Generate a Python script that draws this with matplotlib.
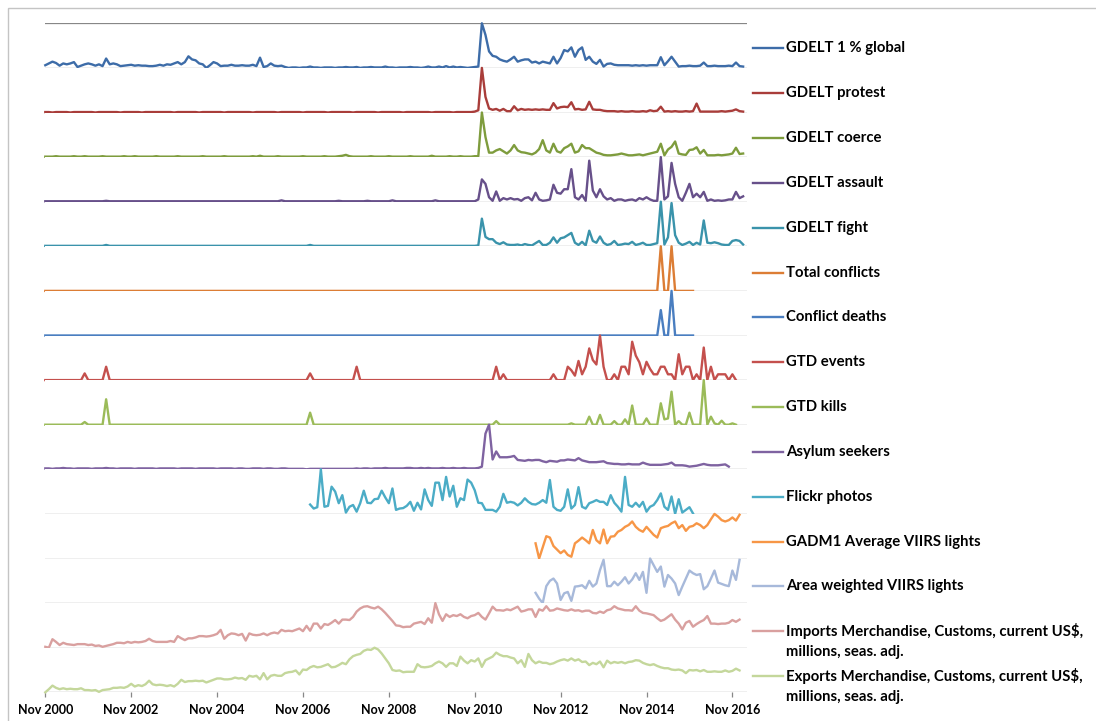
import numpy as np
import matplotlib
matplotlib.use("Agg")
import matplotlib.pyplot as plt
from matplotlib.patches import Rectangle
from matplotlib.lines import Line2D

plt.rcParams['font.family'] = ['Lato', 'DejaVu Sans']

# monthly values, month 0 = Nov 2000; each series read as % of its own panel (min..max)
tick_pos = [0, 24, 48, 72, 96, 120, 144, 168, 192]
tick_labels = ["Nov 2000", "Nov 2002", "Nov 2004", "Nov 2006", "Nov 2008",
               "Nov 2010", "Nov 2012", "Nov 2014", "Nov 2016"]

gdelt_global = [6, 10, 14, 11, 5, 10, 8, 10, 13, 2,
                5, 8, 10, 8, 5, 8, 4, 21, 8, 10,
                8, 4, 5, 6, 7, 5, 6, 5, 5, 4,
                4, 5, 7, 5, 8, 7, 10, 13, 8, 13,
                26, 19, 17, 10, 8, 0, 6, 13, 10, 4,
                5, 5, 7, 5, 5, 6, 5, 5, 7, 4,
                23, 2, 4, 10, 5, 4, 5, 2, 0, 1,
                1, 0, 1, 1, 3, 1, 1, 0, 1, 1,
                1, 0, 1, 1, 2, 1, 1, 2, 0, 1,
                1, 2, 1, 1, 1, 3, 1, 1, 0, 1,
                1, 1, 2, 1, 1, 0, 1, 3, 1, 1,
                3, 1, 4, 1, 3, 1, 2, 1, 0, 1,
                2, 3, 100, 74, 37, 27, 25, 19, 16, 14,
                19, 25, 14, 17, 19, 19, 12, 14, 10, 14,
                12, 10, 25, 10, 22, 40, 37, 46, 25, 40,
                46, 18, 25, 14, 9, 18, 3, 9, 10, 7,
                6, 6, 6, 6, 5, 6, 5, 6, 5, 6,
                6, 6, 24, 6, 15, 25, 14, 3, 4, 4,
                5, 4, 4, 5, 12, 4, 4, 5, 4, 4,
                4, 5, 4, 12, 4, 3]

gdelt_protest = [1, 1, 0, 1, 1, 1, 1, 0, 1, 1,
                 1, 1, 1, 1, 0, 1, 1, 1, 1, 1,
                 1, 0, 1, 1, 1, 1, 1, 0, 1, 1,
                 1, 1, 1, 1, 1, 1, 0, 1, 1, 1,
                 1, 1, 1, 0, 1, 1, 1, 1, 1, 1,
                 0, 1, 1, 1, 1, 1, 1, 1, 0, 1,
                 1, 1, 1, 1, 1, 0, 1, 1, 1, 1,
                 1, 1, 0, 1, 1, 1, 1, 1, 1, 0,
                 1, 1, 1, 1, 1, 1, 0, 1, 1, 1,
                 1, 1, 1, 0, 1, 1, 1, 1, 1, 1,
                 0, 1, 1, 1, 1, 1, 1, 1, 0, 1,
                 1, 1, 1, 1, 0, 1, 1, 1, 1, 1,
                 2, 5, 100, 35, 9, 6, 8, 4, 8, 3,
                 3, 14, 5, 8, 6, 7, 6, 7, 6, 7,
                 6, 6, 21, 9, 12, 13, 12, 23, 7, 8,
                 6, 7, 24, 7, 6, 6, 4, 3, 3, 3,
                 2, 3, 2, 2, 3, 2, 2, 3, 2, 5,
                 3, 4, 13, 2, 3, 2, 3, 2, 2, 3,
                 2, 3, 20, 2, 2, 2, 2, 2, 2, 3,
                 2, 3, 4, 7, 3, 2]

gdelt_coerce = [1, 1, 1, 2, 1, 1, 1, 1, 2, 1,
                1, 2, 1, 1, 1, 1, 2, 1, 1, 1,
                1, 1, 2, 1, 1, 2, 1, 1, 1, 1,
                1, 2, 1, 1, 1, 1, 1, 2, 1, 1,
                1, 1, 1, 1, 2, 1, 1, 1, 1, 1,
                2, 1, 1, 1, 1, 1, 1, 1, 2, 1,
                3, 1, 1, 1, 1, 2, 1, 1, 1, 1,
                1, 1, 2, 1, 1, 1, 1, 1, 2, 1,
                1, 1, 2, 3, 5, 2, 1, 1, 1, 1,
                1, 2, 1, 1, 1, 1, 2, 1, 1, 1,
                1, 1, 2, 1, 1, 1, 1, 1, 3, 1,
                1, 1, 1, 2, 1, 1, 2, 1, 1, 1,
                2, 2, 100, 45, 10, 10, 15, 18, 13, 8,
                15, 27, 15, 11, 10, 8, 6, 10, 18, 38,
                15, 10, 30, 13, 10, 20, 24, 30, 10, 13,
                27, 20, 20, 15, 10, 8, 5, 4, 4, 5,
                6, 8, 6, 4, 4, 5, 6, 4, 6, 8,
                10, 12, 30, 4, 17, 23, 35, 8, 6, 5,
                16, 17, 22, 8, 16, 4, 4, 4, 5, 4,
                5, 6, 8, 21, 7, 8]

gdelt_assault = [1, 1, 1, 1, 1, 1, 1, 1, 1, 1,
                 1, 1, 1, 1, 1, 1, 1, 2, 1, 1,
                 1, 1, 1, 1, 1, 1, 1, 1, 1, 1,
                 1, 1, 1, 1, 1, 1, 1, 1, 1, 1,
                 1, 1, 1, 1, 1, 1, 1, 1, 1, 1,
                 1, 1, 1, 1, 1, 1, 1, 1, 1, 1,
                 1, 1, 1, 1, 1, 1, 3, 1, 1, 1,
                 1, 1, 1, 1, 1, 1, 1, 1, 1, 1,
                 1, 1, 2, 1, 1, 1, 1, 1, 1, 1,
                 2, 1, 1, 1, 1, 1, 1, 3, 1, 1,
                 1, 1, 1, 1, 1, 1, 1, 1, 1, 3,
                 1, 1, 1, 1, 1, 1, 1, 1, 1, 1,
                 1, 5, 50, 40, 10, 2, 23, 2, 8, 5,
                 8, 5, 6, 2, 8, 10, 3, 20, 5, 2,
                 3, 5, 38, 20, 18, 28, 28, 73, 10, 5,
                 15, 2, 92, 25, 10, 28, 12, 5, 8, 2,
                 5, 5, 2, 4, 5, 2, 8, 5, 10, 5,
                 2, 2, 100, 5, 12, 87, 40, 10, 2, 20,
                 40, 10, 18, 10, 22, 2, 5, 2, 3, 2,
                 3, 5, 5, 22, 8, 12]

gdelt_fight = [1, 1, 1, 1, 1, 1, 1, 1, 1, 1,
               1, 1, 1, 1, 1, 1, 1, 3, 1, 1,
               1, 1, 1, 1, 1, 1, 1, 1, 1, 1,
               1, 1, 1, 1, 1, 1, 1, 1, 1, 1,
               1, 1, 1, 1, 1, 1, 1, 1, 1, 1,
               1, 1, 1, 1, 1, 1, 1, 1, 1, 1,
               1, 1, 1, 1, 1, 1, 1, 1, 1, 1,
               1, 1, 1, 1, 3, 1, 1, 1, 1, 1,
               1, 1, 1, 1, 1, 1, 1, 1, 1, 1,
               1, 1, 1, 1, 1, 1, 1, 1, 1, 1,
               1, 1, 1, 1, 1, 1, 1, 1, 1, 1,
               1, 1, 1, 1, 1, 1, 1, 1, 1, 1,
               1, 2, 62, 21, 16, 16, 8, 5, 9, 4,
               3, 3, 4, 2, 5, 3, 2, 7, 12, 3,
               3, 8, 20, 8, 18, 20, 25, 30, 8, 3,
               10, 2, 35, 12, 8, 22, 8, 3, 5, 12,
               3, 4, 6, 5, 10, 3, 5, 8, 3, 3,
               5, 7, 100, 4, 20, 97, 25, 8, 3, 6,
               10, 3, 8, 4, 58, 8, 7, 9, 7, 4,
               3, 3, 12, 14, 12, 4]

# sparse series: zero except the listed months
conflict_end = 181
total_conflicts_months = [172, 175]
total_conflicts_vals = [100, 100]
conflict_deaths_months = [172, 175]
conflict_deaths_vals = [57, 100]

gtd_end = 193
gtd_events_months = [11, 17, 74, 87, 126, 128, 142, 146, 147, 148, 149, 150, 151, 152,
                     153, 154, 155, 156, 159, 161, 162, 163, 164, 165, 166, 167, 168,
                     169, 170, 171, 172, 173, 174, 175, 177, 178, 179, 180, 182, 184,
                     186, 188, 189, 190, 192]
gtd_events_vals = [15, 30, 15, 30, 30, 13, 13, 30, 22, 10, 43, 13, 30, 71,
                   45, 35, 100, 30, 13, 30, 30, 13, 86, 55, 40, 13, 41,
                   25, 13, 13, 30, 30, 13, 13, 58, 13, 30, 30, 13, 73,
                   30, 13, 13, 13, 13]
gtd_kills_months = [11, 17, 74, 126, 147, 152, 155, 159, 162, 164, 168, 172, 173,
                    174, 175, 177, 180, 184, 186, 187, 189, 192]
gtd_kills_vals = [6, 57, 27, 8, 3, 18, 22, 8, 12, 43, 14, 48, 12,
                  14, 74, 8, 27, 100, 18, 3, 9, 3]

asylum = [2, 2, 1, 2, 2, 3, 2, 2, 1, 2,
          2, 2, 2, 1, 2, 2, 2, 3, 2, 2,
          1, 2, 2, 2, 2, 1, 2, 2, 2, 2,
          2, 1, 2, 2, 2, 2, 2, 1, 2, 2,
          2, 2, 1, 2, 2, 2, 2, 2, 1, 2,
          2, 2, 2, 1, 2, 2, 1, 1, 2, 2,
          2, 1, 2, 2, 1, 1, 2, 2, 1, 1,
          1, 1, 1, 0, 1, 1, 1, 1, 1, 1,
          1, 1, 1, 1, 1, 1, 1, 2, 1, 2,
          2, 1, 2, 2, 2, 3, 2, 2, 2, 2,
          2, 3, 3, 2, 2, 3, 2, 3, 2, 2,
          2, 3, 2, 2, 3, 2, 2, 3, 2, 2,
          2, 3, 6, 80, 100, 22, 40, 27, 27, 27,
          28, 30, 21, 20, 19, 21, 20, 21, 21, 18,
          16, 19, 18, 17, 20, 20, 22, 21, 20, 25,
          20, 18, 16, 16, 16, 17, 18, 14, 13, 12,
          12, 11, 11, 12, 11, 11, 11, 15, 12, 10,
          10, 10, 10, 11, 12, 15, 9, 9, 9, 8,
          6, 7, 8, 10, 12, 10, 9, 9, 9, 10,
          11, 6]

flickr_start = 74
flickr = [21, 12, 15, 100, 16, 18, 61, 50, 24, 42,
          3, 16, 20, 5, 24, 52, 25, 24, 33, 34,
          52, 37, 24, 57, 9, 12, 13, 18, 27, 7,
          25, 10, 55, 31, 18, 70, 70, 31, 83, 39,
          63, 16, 35, 31, 77, 70, 53, 25, 24, 9,
          9, 9, 5, 16, 45, 25, 27, 25, 19, 25,
          35, 27, 22, 21, 25, 31, 25, 76, 16, 9,
          7, 16, 55, 12, 20, 60, 16, 12, 24, 27,
          31, 27, 27, 20, 42, 25, 16, 5, 83, 20,
          16, 25, 16, 27, 5, 16, 20, 31, 46, 16,
          9, 39, 0, 33, 3, 9, 15, 1]

viirs_start = 137
gadm1_lights = [34, 0, 25, 50, 47, 28, 20, 12, 18, 8,
                4, 34, 40, 47, 41, 34, 64, 41, 34, 65,
                34, 49, 50, 60, 64, 71, 75, 83, 71, 64,
                60, 71, 62, 53, 47, 68, 71, 73, 79, 83,
                68, 75, 62, 71, 73, 79, 75, 68, 75, 88,
                100, 94, 86, 83, 86, 92, 85, 98]
area_lights = [23, 10, 0, 38, 50, 55, 44, 7, 22, 25,
               5, 37, 38, 40, 33, 50, 37, 44, 74, 97,
               38, 38, 48, 40, 48, 58, 44, 53, 67, 52,
               70, 23, 100, 85, 70, 82, 37, 63, 55, 44,
               18, 37, 55, 73, 67, 63, 65, 31, 38, 55,
               73, 46, 43, 40, 38, 73, 52, 97]

imports = [2, 0, 19, 13, 6, 11, 8, 7, 6, 8,
           8, 8, 6, 7, 4, 5, 2, 4, 6, 8,
           11, 11, 10, 13, 11, 13, 12, 13, 15, 20,
           15, 13, 13, 13, 13, 15, 13, 26, 21, 17,
           21, 21, 23, 26, 26, 25, 26, 28, 31, 40,
           20, 28, 32, 31, 28, 31, 16, 32, 29, 28,
           29, 32, 28, 32, 34, 32, 40, 37, 38, 37,
           40, 43, 37, 49, 38, 54, 54, 43, 53, 51,
           56, 62, 54, 63, 63, 62, 69, 81, 88, 92,
           93, 90, 88, 92, 86, 78, 69, 60, 50, 49,
           46, 47, 47, 54, 56, 58, 53, 66, 56, 100,
           75, 60, 75, 69, 73, 71, 75, 69, 66, 71,
           73, 78, 69, 63, 77, 92, 84, 84, 83, 86,
           84, 88, 92, 81, 83, 86, 86, 69, 86, 83,
           93, 83, 84, 88, 86, 84, 83, 86, 83, 84,
           81, 83, 83, 78, 77, 81, 78, 84, 86, 93,
           88, 86, 84, 84, 83, 93, 83, 78, 77, 75,
           73, 66, 60, 63, 69, 75, 63, 54, 41, 56,
           60, 47, 53, 58, 62, 71, 54, 54, 53, 54,
           54, 56, 62, 58, 63]

exports = [0, 7, 15, 10, 7, 9, 7, 8, 7, 7,
           9, 5, 5, 4, 5, 1, 5, 6, 7, 10,
           10, 11, 10, 13, 19, 13, 16, 14, 18, 26,
           18, 16, 17, 16, 14, 16, 13, 19, 28, 23,
           25, 25, 26, 25, 26, 22, 25, 28, 31, 31,
           29, 29, 30, 33, 31, 32, 28, 37, 35, 37,
           29, 43, 29, 37, 39, 37, 37, 43, 45, 46,
           49, 40, 51, 50, 56, 59, 56, 57, 60, 63,
           56, 57, 61, 66, 63, 74, 81, 84, 86, 93,
           96, 95, 100, 96, 87, 76, 65, 50, 48, 49,
           45, 46, 46, 46, 63, 57, 56, 57, 59, 65,
           69, 65, 57, 65, 65, 59, 80, 71, 65, 72,
           69, 76, 57, 72, 76, 80, 89, 84, 81, 81,
           78, 76, 65, 72, 57, 86, 72, 65, 69, 66,
           66, 63, 65, 69, 72, 74, 71, 76, 71, 74,
           68, 69, 61, 66, 63, 69, 56, 71, 65, 68,
           66, 68, 65, 68, 69, 72, 71, 66, 63, 61,
           63, 59, 56, 54, 54, 51, 50, 51, 49, 43,
           50, 49, 50, 47, 50, 46, 46, 47, 46, 46,
           49, 46, 48, 53, 49]

labels = ["GDELT 1 % global", "GDELT protest", "GDELT coerce", "GDELT assault",
          "GDELT fight", "Total conflicts", "Conflict deaths", "GTD events",
          "GTD kills", "Asylum seekers", "Flickr photos", "GADM1 Average VIIRS lights",
          "Area weighted VIIRS lights",
          "Imports Merchandise, Customs, current US$,\nmillions, seas. adj.",
          "Exports Merchandise, Customs, current US$,\nmillions, seas. adj."]
colors = ["#3d6ca8", "#a93d3a", "#7e9c3d", "#67508a", "#3a93ab", "#dc7d35",
          "#4a7ec0", "#c4504d", "#9bbb59", "#7f63a1", "#4bacc6", "#f79646",
          "#a7b9da", "#d9a09f", "#c4d79b"]


def sparse(months, vals, end):
    arr = np.zeros(end + 1)
    arr[months] = vals
    return arr


data = [
    (0, gdelt_global), (0, gdelt_protest), (0, gdelt_coerce), (0, gdelt_assault),
    (0, gdelt_fight),
    (0, sparse(total_conflicts_months, total_conflicts_vals, conflict_end)),
    (0, sparse(conflict_deaths_months, conflict_deaths_vals, conflict_end)),
    (0, sparse(gtd_events_months, gtd_events_vals, gtd_end)),
    (0, sparse(gtd_kills_months, gtd_kills_vals, gtd_end)),
    (0, asylum), (flickr_start, flickr), (viirs_start, gadm1_lights),
    (viirs_start, area_lights), (0, imports), (0, exports),
]

W, H = 1096, 721
fig = plt.figure(figsize=(W / 100, H / 100), dpi=100)
fig.add_artist(Rectangle((7.5 / W, -0.1), 1.2, 1.1 - 7.5 / H, transform=fig.transFigure,
                         fill=False, ec="#c4c4c4", lw=1))

grey = "#878787"
x0, x1 = 45.3, 746.7
top0, ph = 23.3, 44.6
lw = 1.7

for k, ((start, vals), name, col) in enumerate(zip(data, labels, colors)):
    ax = fig.add_axes([x0 / W, 1 - (top0 + ph * (k + 1)) / H, (x1 - x0) / W, ph / H])
    ax.set_xlim(0, 196)
    ax.set_ylim(0, 100)
    for s in ax.spines.values():
        s.set_visible(False)
    ax.axhline(0, color=grey, lw=0.9, zorder=1)
    if k == 0:
        ax.axhline(100, color=grey, lw=0.9, zorder=1)
    ax.plot(start + np.arange(len(vals)), vals, color=col, lw=lw, clip_on=False,
            zorder=3, solid_joinstyle="round")
    ax.set_yticks([])
    if k == len(data) - 1:
        ax.set_xticks(tick_pos)
        ax.set_xticklabels(tick_labels, fontsize=9, fontweight="bold")
        ax.tick_params(axis="x", direction="out", length=3.6, width=0.9,
                       color=grey, pad=4.5)
    else:
        ax.set_xticks([])

    # legend entry on the right
    ly = 48.3 + 44.84 * k
    fig.add_artist(Line2D([752.7 / W, 783 / W], [1 - ly / H] * 2, color=col, lw=lw))
    for j, line in enumerate(name.split("\n")):
        fig.text(786 / W, 1 - (ly + 20.7 * j) / H, line, fontsize=10.7,
                 fontweight="bold", va="center", ha="left")

fig.savefig("out.png", dpi=100)
